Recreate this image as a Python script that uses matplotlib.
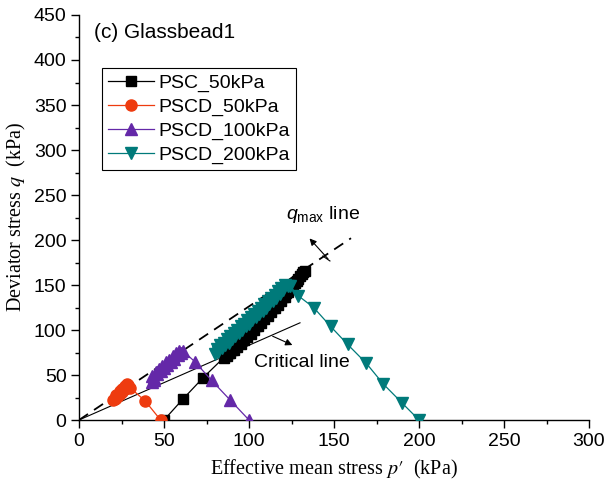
import matplotlib
matplotlib.use('Agg')
import matplotlib.pyplot as plt
from matplotlib.ticker import MultipleLocator

plt.rcParams['mathtext.fontset'] = 'custom'
plt.rcParams['mathtext.it'] = 'Liberation Sans:italic'
plt.rcParams['mathtext.rm'] = 'Liberation Sans'

# PSC_50kPa (black squares)
psc50_p = [50, 61, 73, 85, 86, 87, 88, 89, 90, 91, 92, 93, 94, 95, 96, 97, 98,
           99, 100, 101, 102, 103, 104, 105, 106, 107, 108, 109, 110, 111, 112,
           113, 114, 115, 116, 117, 118, 119, 120, 121, 122, 123, 124, 125, 126,
           127, 128, 129, 130, 131, 132, 133]
psc50_q = [0, 23, 47, 69, 72, 71, 75, 74, 78, 78, 82, 81, 86, 85, 89, 89, 93,
           92, 97, 96, 101, 100, 105, 104, 109, 108, 113, 112, 117, 116, 121,
           120, 125, 124, 129, 128, 133, 132, 137, 137, 141, 142, 146, 147, 150,
           152, 155, 157, 160, 162, 164, 166]

# PSCD_50kPa (red circles)
pscd50_p = [48, 39, 30, 29, 28, 28, 27, 27, 26, 25, 25, 24, 24, 23, 22, 22,
            21, 20, 21]
pscd50_q = [0, 21, 36, 39, 37, 40, 35, 38, 33, 35, 31, 29, 32, 27, 25, 28,
            23, 22, 25]

# PSCD_100kPa (purple triangles)
pscd100_p = [100, 89, 78, 68, 61, 60, 59, 58, 57, 56, 55, 54, 53, 52, 51, 50,
             49, 48, 47, 46, 45, 44, 43, 44, 43]
pscd100_q = [0, 22, 44, 65, 77, 75, 77, 72, 74, 68, 71, 65, 67, 61, 64, 58,
             60, 54, 57, 51, 53, 47, 49, 44, 42]

# PSCD_200kPa (teal down-triangles)
pscd200_p = [200, 190, 179, 169, 158, 148, 138, 129, 124, 123, 121, 120, 119,
             118, 117, 116, 115, 114, 113, 112, 111, 110, 109, 108, 107, 106,
             105, 104, 103, 102, 101, 100, 99, 98, 97, 96, 95, 94, 93, 92, 91,
             90, 89, 88, 87, 86, 85, 84, 83, 82, 81, 80]
pscd200_q = [0, 19, 40, 63, 84, 104, 125, 138, 149, 149, 150, 144, 147, 140,
             143, 136, 139, 132, 136, 129, 132, 125, 129, 121, 125, 118, 121,
             114, 118, 111, 114, 107, 111, 104, 107, 100, 104, 97, 100, 93, 97,
             90, 93, 86, 90, 83, 86, 80, 83, 76, 79, 73]

# reference lines
qmax_p = [0, 160]
qmax_q = [0, 202]
crit_p = [0, 130]
crit_q = [0, 108]

fig = plt.figure(figsize=(6.04, 4.95), dpi=100)
ax = fig.add_axes([0.1308, 0.1515, 0.8444, 0.8182])

ms = 7
lw = 0.9
ax.plot(qmax_p, qmax_q, color='black', lw=1.3, ls=(0, (6, 4)), zorder=1)
ax.plot(crit_p, crit_q, color='black', lw=0.8, zorder=1)

ax.plot(psc50_p, psc50_q, color='black', marker='s', ms=ms, lw=lw, label='PSC_50kPa', zorder=3)
ax.plot(pscd50_p, pscd50_q, color='#ee3b0f', marker='o', ms=ms + 1, lw=lw, label='PSCD_50kPa', zorder=3)
ax.plot(pscd100_p, pscd100_q, color='#6428a8', marker='^', ms=ms + 1, lw=lw, label='PSCD_100kPa', zorder=3)
ax.plot(pscd200_p, pscd200_q, color='#007a7a', marker='v', ms=ms + 1, lw=lw, label='PSCD_200kPa', zorder=4)

# q_max annotation
ax.plot([143.4, 147.6], [182.2, 176.7], color='black', lw=0.8)
ax.annotate('', xy=(134.5, 204), xytext=(147.6, 176.7),
            arrowprops=dict(arrowstyle='-|>', color='black', lw=0.8, mutation_scale=10))
ax.text(122, 228, r'$q_{\mathregular{max}}$ line', fontsize=14, family='Liberation Sans',
        va='center', ha='left')

# critical line annotation
ax.annotate('', xy=(127, 82), xytext=(112.4, 94.4),
            arrowprops=dict(arrowstyle='-|>', color='black', lw=0.8, mutation_scale=10))
ax.text(103, 64, 'Critical line', fontsize=14, family='Liberation Sans', va='center', ha='left')

ax.text(9, 431, '(c) Glassbead1', fontsize=15, family='Liberation Sans', va='center', ha='left')

ax.set_xlim(0, 300)
ax.set_ylim(0, 450)
ax.xaxis.set_major_locator(MultipleLocator(50))
ax.xaxis.set_minor_locator(MultipleLocator(25))
ax.yaxis.set_major_locator(MultipleLocator(50))
ax.yaxis.set_minor_locator(MultipleLocator(25))
ax.tick_params(which='major', direction='out', length=6, width=1, labelsize=14, pad=3)
ax.tick_params(which='minor', direction='out', length=3, width=1)
for lab in ax.get_xticklabels() + ax.get_yticklabels():
    lab.set_family('Liberation Sans')
ax.spines['top'].set_visible(False)
ax.spines['right'].set_visible(False)
ax.spines['left'].set_linewidth(1)
ax.spines['bottom'].set_linewidth(1)

ax.set_xlabel(r"Effective mean stress $p\prime$  (kPa)", fontsize=14.5, family='Liberation Serif',
              labelpad=6, math_fontfamily='stix')
ax.set_ylabel(r"Deviator stress $q$  (kPa)", fontsize=14.5, family='Liberation Serif',
              labelpad=4, math_fontfamily='stix')

leg = ax.legend(loc='upper left', bbox_to_anchor=(0.045, 0.869), borderaxespad=0,
                prop={'family': 'Liberation Sans', 'size': 14},
                handlelength=2.4, handletextpad=0.2, labelspacing=0.33,
                borderpad=0.3, fancybox=False, edgecolor='black', framealpha=1)
leg.get_frame().set_linewidth(0.8)

fig.savefig('out.png', dpi=100)
